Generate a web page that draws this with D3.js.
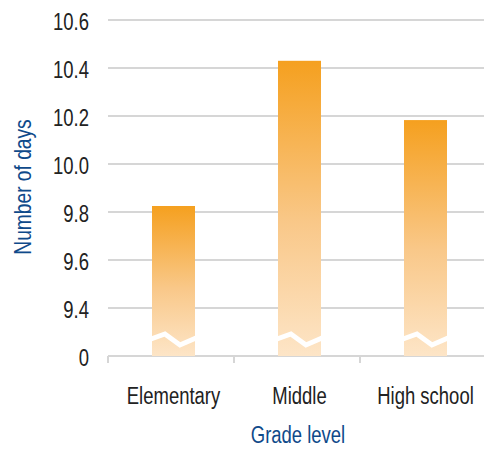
<!DOCTYPE html>
<html>
<head>
<meta charset="utf-8">
<script src="https://cdn.jsdelivr.net/npm/d3@7"></script>
<style>
  body { margin: 0; background: #fff; }
  svg text { font-family: "Liberation Sans", Arial, sans-serif; }
</style>
</head>
<body>
<svg id="chart" width="484" height="449"></svg>
<script>
// data
const grades = ["Elementary", "Middle", "High school"];
const days = [9.825, 10.43, 10.183];
const yTicks = [0, 9.4, 9.6, 9.8, 10.0, 10.2, 10.4, 10.6];
const yTickLabels = ["0", "9.4", "9.6", "9.8", "10.0", "10.2", "10.4", "10.6"];

var svg = d3.select("#chart"),
    width = +svg.attr("width"),
    height = +svg.attr("height");

var left = 108, right = 486, base = 356;
var squeeze = 0.77; // narrow the font, no condensed face installed
var fs = 24;

// broken axis: 0 sits one step below 9.4
var y = d3.scaleLinear()
    .domain([0, 9.4, 10.6])
    .range([base, 308, 20]);

var x = d3.scaleBand()
    .domain(grades)
    .range([left, right])
    .padding(0);

var barW = 43;
function barX(d) { return x(d) + (x.bandwidth() - barW) / 2 + 2.5; }

var defs = svg.append("defs");
var grad = defs.append("linearGradient")
    .attr("id", "barGrad")
    .attr("x1", 0).attr("y1", 0)
    .attr("x2", 0).attr("y2", 1);
grad.append("stop").attr("offset", "0%").attr("stop-color", "#f5a01f");
grad.append("stop").attr("offset", "55%").attr("stop-color", "#f9c889");
grad.append("stop").attr("offset", "100%").attr("stop-color", "#fde5c7");

// gridlines
svg.append("g")
  .selectAll("line")
  .data(yTicks)
  .enter().append("line")
    .attr("x1", left)
    .attr("x2", width)
    .attr("y1", function(d) { return y(d); })
    .attr("y2", function(d) { return y(d); })
    .attr("stroke", "#d6d6d6")
    .attr("stroke-width", 2);

// y tick labels
svg.append("g")
  .selectAll("text")
  .data(yTicks)
  .enter().append("text")
    .attr("transform", function(d) { return "translate(89," + (y(d) + 1) + ") scale(" + squeeze + ",1)"; })
    .attr("dy", "0.36em")
    .attr("text-anchor", "end")
    .attr("font-size", fs)
    .attr("fill", "#222")
    .text(function(d, i) { return yTickLabels[i]; });

// x axis ticks
svg.append("g")
  .selectAll("line")
  .data([left, left + x.step(), left + 2 * x.step()])
  .enter().append("line")
    .attr("x1", function(d) { return d; })
    .attr("x2", function(d) { return d; })
    .attr("y1", base)
    .attr("y2", base + 7)
    .attr("stroke", "#d6d6d6")
    .attr("stroke-width", 2);

// bars
var bars = svg.append("g")
  .selectAll("g")
  .data(grades)
  .enter().append("g");

bars.append("rect")
    .attr("x", barX)
    .attr("y", function(d, i) { return y(days[i]); })
    .attr("width", barW)
    .attr("height", function(d, i) { return base - y(days[i]); })
    .attr("fill", "url(#barGrad)");

// white zigzag for the axis break
bars.append("polyline")
    .attr("points", function(d) {
      var x0 = barX(d);
      return [
        [x0 - 1, 339], [x0 + barW * 0.3, 334], [x0 + barW * 0.65, 345], [x0 + barW + 1, 338]
      ].join(" ");
    })
    .attr("fill", "none")
    .attr("stroke", "#fff")
    .attr("stroke-width", 5);

// x labels
svg.append("g")
  .selectAll("text")
  .data(grades)
  .enter().append("text")
    .attr("transform", function(d) { return "translate(" + (barX(d) + barW / 2) + ",404) scale(" + squeeze + ",1)"; })
    .attr("text-anchor", "middle")
    .attr("font-size", fs)
    .attr("fill", "#222")
    .text(function(d) { return d; });

// axis titles
svg.append("text")
    .attr("transform", "translate(298,443) scale(" + squeeze + ",1)")
    .attr("text-anchor", "middle")
    .attr("font-size", fs)
    .attr("fill", "#0f4a8a")
    .text("Grade level");

svg.append("text")
    .attr("transform", "translate(31,187) rotate(-90) scale(" + 0.8 + ",1)")
    .attr("text-anchor", "middle")
    .attr("font-size", fs)
    .attr("fill", "#0f4a8a")
    .text("Number of days");
</script>
</body>
</html>
